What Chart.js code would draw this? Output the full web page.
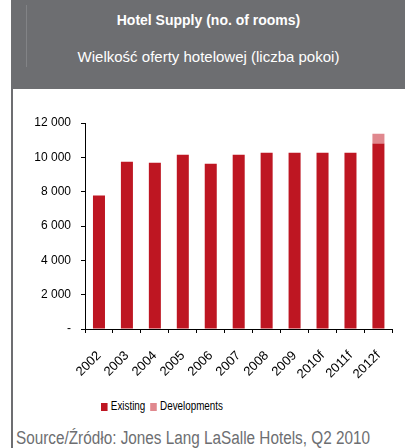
<!DOCTYPE html>
<html>
<head>
<meta charset="utf-8">
<script src="https://cdn.jsdelivr.net/npm/chart.js@4.4.0/dist/chart.umd.min.js"></script>
<style>
  body { margin: 0; width: 405px; height: 448px; background: #fff; position: relative; overflow: hidden; font-family: "Liberation Sans", Arial, sans-serif; }
  #border { position: absolute; left: 11px; top: 0; width: 2px; height: 448px; background: #6d6e71; }
  #header { position: absolute; left: 12px; top: 0; width: 393px; height: 89px; background: #6d6e71; color: #fff; text-align: center; }
  #header .inner { position: absolute; left: 14px; top: 5px; width: 1px; height: 62px; background: rgba(255,255,255,0.15); }
  #title { position: absolute; left: 0; right: 0; top: 12px; font-weight: bold; font-size: 14px; }
  #subtitle { position: absolute; left: 0; right: 0; top: 48px; font-size: 15px; }
  #chartBox { position: absolute; left: 0; top: 89px; width: 405px; height: 310px; }
  #legend { position: absolute; left: 101px; top: 399px; font-size: 12px; color: #000; white-space: nowrap; transform-origin: left center; transform: scaleX(0.82); }
  #legend span.box { display: inline-block; width: 8px; height: 8px; margin-right: 4px; vertical-align: -1px; }
  #legend span.item { margin-right: 6px; }
  #source { position: absolute; left: 16px; top: 428px; font-size: 18px; color: #6d6e71; white-space: nowrap; transform-origin: left center; }
</style>
</head>
<body>
<div id="border"></div>
<div id="header">
  <div class="inner"></div>
  <div id="title">Hotel Supply (no. of rooms)</div>
  <div id="subtitle">Wielkość oferty hotelowej (liczba pokoi)</div>
</div>
<div id="chartBox"><canvas id="chart"></canvas></div>
<div id="legend"></div>
<div id="source">Source/Źródło: Jones Lang LaSalle Hotels, Q2 2010</div>
<script>
// --- dane ---
const years = ['2002', '2003', '2004', '2005', '2006', '2007', '2008', '2009', '2010f', '2011f', '2012f'];
const existing = [7770, 9750, 9690, 10150, 9630, 10150, 10270, 10270, 10270, 10270, 10800];
const developments = [0, 0, 0, 0, 0, 0, 0, 0, 0, 0, 580];
const yTicks = [0, 2000, 4000, 6000, 8000, 10000, 12000];
const seriesNames = ['Existing', 'Developments'];

const red = '#be1622';
const pink = '#e0888e';
const axisFont = { family: "'Liberation Sans', Arial, sans-serif", size: 12 };

function fmt(v) {
    if (v === 0) return '-';
    return v.toString().replace(/\B(?=(\d{3})+(?!\d))/g, ' ');
}

// scisniecie tekstu do zadanej szerokosci (waska czcionka w oryginale)
function squeeze(el, width) {
    const w = el.getBoundingClientRect().width;
    if (w > width) el.style.transform = 'scaleX(' + (width / w) + ')';
}

const chart = new Chart(document.getElementById('chart').getContext('2d'), {
    type: 'bar',
    data: {
        labels: years,
        datasets: [
            { label: seriesNames[0], data: existing, backgroundColor: red, barPercentage: 0.43, categoryPercentage: 1 },
            { label: seriesNames[1], data: developments, backgroundColor: pink, barPercentage: 0.43, categoryPercentage: 1 }
        ]
    },
    options: {
        responsive: true,
        maintainAspectRatio: false,
        animation: false,
        layout: { padding: { left: 0, right: 12, top: 34, bottom: 0 } },
        plugins: {
            legend: { display: false },
            tooltip: { enabled: false }
        },
        scales: {
            x: {
                stacked: true,
                grid: { display: true, drawOnChartArea: false, drawTicks: true, tickLength: 4, color: '#000' },
                border: { display: true, color: '#000', width: 1 },
                ticks: { minRotation: 45, maxRotation: 45, color: '#000', font: { family: axisFont.family, size: 13 }, padding: 15 },
                afterFit: s => { s.height = 70; }
            },
            y: {
                stacked: true,
                min: 0,
                max: 12000,
                afterBuildTicks: s => { s.ticks = yTicks.map(v => ({ value: v })); },
                grid: { display: true, drawOnChartArea: false, drawTicks: true, tickLength: 4, color: '#000' },
                border: { display: true, color: '#000', width: 1 },
                ticks: { color: '#000', font: axisFont, padding: 10, callback: v => fmt(v) },
                afterFit: s => { s.width = 85; }
            }
        }
    }
});

// legenda w HTML
const legend = document.getElementById('legend');
chart.data.datasets.forEach(ds => {
    const item = document.createElement('span');
    item.className = 'item';
    const box = document.createElement('span');
    box.className = 'box';
    box.style.background = ds.backgroundColor;
    item.appendChild(box);
    item.appendChild(document.createTextNode(ds.label));
    legend.appendChild(item);
});
squeeze(document.getElementById('source'), 354);
</script>
</body>
</html>
